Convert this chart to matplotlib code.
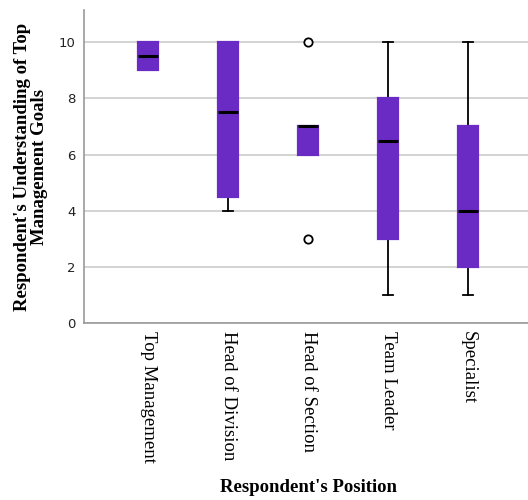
import matplotlib
matplotlib.use('Agg')
import matplotlib.pyplot as plt

# Dades llegides del grafic
positions = ['Top Management', 'Head of Division', 'Head of Section', 'Team Leader', 'Specialist']
q1 = [9, 4.5, 6, 3, 2]
medians = [9.5, 7.5, 7, 6.5, 4]
q3 = [10, 10, 7, 8, 7]
whis_lo = [9, 4, 6, 1, 1]
whis_hi = [10, 10, 7, 10, 10]
outliers = [[], [], [10, 3], [], []]

stats = []
for i, name in enumerate(positions):
    stats.append({'label': name, 'q1': q1[i], 'med': medians[i], 'q3': q3[i],
                  'whislo': whis_lo[i], 'whishi': whis_hi[i], 'fliers': outliers[i]})

fig = plt.figure(figsize=(5.28, 5.0), dpi=100)
ax = fig.add_axes([84/528, 1-323/500, 1-84/528, 313/500])

purple = '#6A2BC4'
bp = ax.bxp(stats, positions=range(len(positions)), widths=0.24, patch_artist=True,
            boxprops=dict(facecolor=purple, edgecolor=purple, linewidth=1.6),
            medianprops=dict(color='black', linewidth=2.2),
            whiskerprops=dict(color='black', linewidth=1.3),
            capprops=dict(color='black', linewidth=1.3), capwidths=0.13,
            flierprops=dict(marker='o', markerfacecolor='white', markeredgecolor='black',
                            markersize=6, markeredgewidth=1.3))
# caixes per sobre dels bigotis
for c in bp['caps'] + bp['whiskers']:
    c.set_zorder(2)
for b in bp['boxes']:
    b.set_zorder(3)
for m in bp['medians']:
    m.set_zorder(4)

ax.set_ylim(0, 11.15)
ax.set_xlim(-0.8, 4.75)
ax.set_yticks([0, 2, 4, 6, 8, 10])
ax.yaxis.grid(True, color='#cccccc', linewidth=1.2, zorder=0)
ax.set_axisbelow(True)
for s in ['top', 'right']:
    ax.spines[s].set_visible(False)
for s in ['left', 'bottom']:
    ax.spines[s].set_color('#999999')
    ax.spines[s].set_linewidth(1.2)
ax.tick_params(axis='both', length=0, pad=6)
ax.tick_params(axis='y', labelsize=9.5, labelcolor='#222222')
ax.set_xticks(range(len(positions)))
ax.set_xticklabels(positions, rotation=-90, fontfamily='Liberation Serif', fontsize=13.5, va='top')

ax.set_ylabel("Respondent's Understanding of Top\nManagement Goals", fontfamily='Liberation Serif',
              fontweight='bold', fontsize=13.5, labelpad=8, linespacing=1.0)
fig.text(308/528, 1-488/500, "Respondent's Position", fontfamily='Liberation Serif',
         fontweight='bold', fontsize=13.5, ha='center', va='center')

fig.savefig('out.png', dpi=100)
